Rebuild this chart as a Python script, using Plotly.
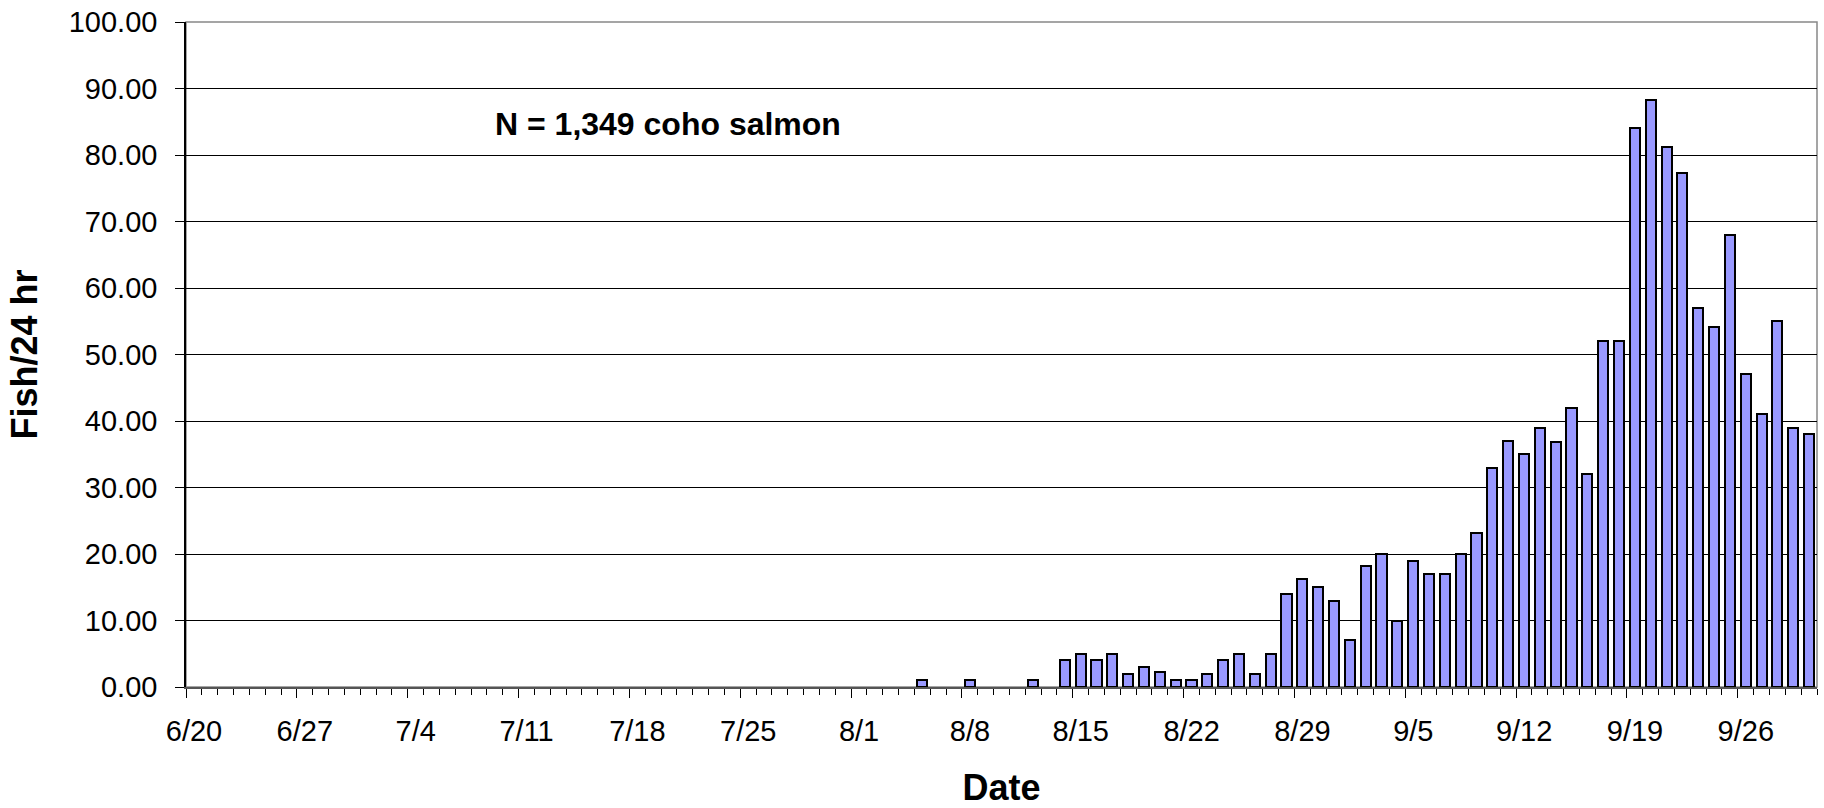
import pandas as pd
import plotly.graph_objects as go

# season shown on the axis (year is not printed on the chart)
YEAR = 2006
SEASON_START = '6/20'
SEASON_END = '9/30'

TICK_LABELS = ['6/20', '6/27', '7/4', '7/11', '7/18', '7/25', '8/1', '8/8',
               '8/15', '8/22', '8/29', '9/5', '9/12', '9/19', '9/26']

# days with catch (fish per 24 hr)
BAR_DATES = ['8/5', '8/8', '8/12',
             '8/14', '8/15', '8/16', '8/17', '8/18', '8/19', '8/20', '8/21',
             '8/22', '8/23', '8/24', '8/25', '8/26', '8/27', '8/28', '8/29',
             '8/30', '8/31', '9/1', '9/2', '9/3', '9/4', '9/5', '9/6', '9/7',
             '9/8', '9/9', '9/10', '9/11', '9/12', '9/13', '9/14', '9/15',
             '9/16', '9/17', '9/18', '9/19', '9/20', '9/21', '9/22', '9/23',
             '9/24', '9/25', '9/26', '9/27', '9/28', '9/29', '9/30']
FISH_PER_24HR = [1, 1, 1,
                 4, 5, 4, 5, 2, 3, 2.3, 1,
                 1, 2, 4, 5, 2, 5, 14, 16.3,
                 15, 13, 7, 18.2, 20, 10, 19, 17, 17,
                 20, 23.1, 33, 37, 35, 38.9, 36.9, 42,
                 32, 52, 52, 84.1, 88.2, 81.2, 77.3, 57,
                 54.2, 68, 47, 41, 55, 39, 38]

ANNOTATION = 'N = 1,349 coho salmon'

FONT = 'Liberation Sans, Arial, sans-serif'
DAY_MS = 86400000


def to_date(md):
    return pd.Timestamp(f'{YEAR}/{md}')


half_day = pd.Timedelta(hours=12)
x = [to_date(d) for d in BAR_DATES]
x_start = to_date(SEASON_START) - half_day
x_end = to_date(SEASON_END) + half_day
tickvals = [to_date(d) - half_day for d in TICK_LABELS]

fig = go.Figure()

fig.add_trace(go.Bar(
    x=x,
    y=FISH_PER_24HR,
    width=0.64 * DAY_MS,
    marker=dict(color='#9999FF', line=dict(color='black', width=2)),
    showlegend=False,
))

fig.update_layout(
    width=1824,
    height=808,
    margin=dict(l=186, r=7, t=22, b=121),
    paper_bgcolor='white',
    plot_bgcolor='white',
    font=dict(family=FONT, color='black', size=29),
    bargap=0,
    shapes=[dict(type='rect', xref='paper', yref='paper', x0=0, x1=1, y0=0, y1=1,
                 line=dict(color='#888888', width=1.5), layer='below')],
    annotations=[dict(
        text='<b>' + ANNOTATION + '</b>',
        xref='paper', yref='paper', x=0.1885, y=0.847,
        xanchor='left', yanchor='middle', showarrow=False,
        font=dict(family=FONT, size=32, color='black'),
    )],
)

fig.update_xaxes(
    type='date',
    automargin=False,
    range=[x_start, x_end],
    tickmode='array',
    tickvals=tickvals,
    ticktext=TICK_LABELS,
    ticklabelshift=8,
    ticklabelstandoff=8,
    ticks='outside', ticklen=9, tickwidth=1.2, tickcolor='black',
    minor=dict(ticks='outside', ticklen=6, tickwidth=1.2, tickcolor='black',
               dtick=DAY_MS, tick0=x_start, showgrid=False),
    showgrid=False,
    showline=True, linecolor='#555555', linewidth=1.5,
    title=dict(text='<b>Date</b>', font=dict(family=FONT, size=36), standoff=30),
)

fig.update_yaxes(
    automargin=False,
    range=[0, 100],
    dtick=10,
    tickformat='.2f',
    ticks='outside', ticklen=9, tickwidth=1.2, tickcolor='black',
    ticklabelstandoff=12,
    showgrid=True, gridcolor='black', gridwidth=1,
    zeroline=False,
    showline=True, linecolor='black', linewidth=1.5,
    title=dict(text='<b>Fish/24 hr</b>', font=dict(family=FONT, size=36), standoff=20),
)

# the browser's default 8px body margin would push the figure off the window
fig.write_html('out.html', config={'displayModeBar': False},
               post_script="document.body.style.margin = '0';")
